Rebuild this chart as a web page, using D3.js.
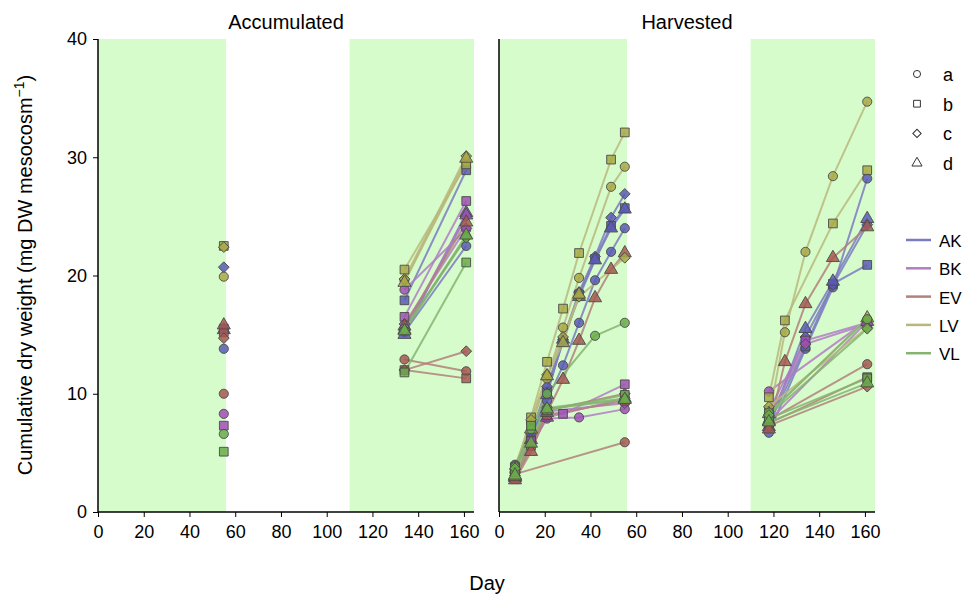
<!DOCTYPE html>
<html>
<head>
<meta charset="utf-8">
<script src="https://cdn.jsdelivr.net/npm/d3@7"></script>
<style>
  body { margin: 0; background: #fff; }
  svg { font-family: "Liberation Sans", Arial, sans-serif; }
</style>
</head>
<body>
<svg id="chart" width="968" height="597"></svg>
<script>
var groups = ["AK", "BK", "EV", "LV", "VL"];
var reps = ["a", "b", "c", "d"];
var lineColors = ["#7b7bc0", "#b07cc4", "#b3807a", "#b8b87c", "#84b470"];
var pointColors = ["#5a5ab4", "#a050b4", "#a4584f", "#a8a846", "#6aac4a"];
var xTicks = [0, 20, 40, 60, 80, 100, 120, 140, 160];
var yTicks = [0, 10, 20, 30, 40];
var shaded = [[0, 56], [110, 164.4]];

// accumulated: one value per replicate a..d at these days
var accDays = [55, 134, 161];
var accAK = [[13.8, 15.2, 22.5], [15.5, 17.9, 28.9], [20.7, 15.3, 25.0], [15.4, 15.0, 25.3]];
var accBK = [[8.3, 18.8, 23.9], [7.3, 16.5, 26.3], [null, 15.9, 24.0], [null, 15.4, 25.1]];
var accEV = [[10.0, 12.9, 11.9], [15.2, 12.0, 11.3], [14.7, 12.0, 13.6], [15.8, 15.7, 24.5]];
var accLV = [[19.9, 19.6, 29.6], [22.5, 20.5, 29.4], [22.4, 19.7, 30.1], [null, 19.4, 29.9]];
var accVL = [[6.6, 15.5, 23.3], [5.1, 11.8, 21.1], [null, 15.4, 23.2], [null, 15.3, 23.4]];

// harvested
var harvDays = [7, 14, 21, 28, 35, 42, 49, 55, 118, 125, 134, 146, 161];
var harvAK = [
  [4.0, 6.3, 9.4, 12.4, 16.0, 19.6, 22.0, 24.0, 6.7, null, 13.8, 19.0, 28.2],
  [3.6, 6.0, 10.2, 14.4, 18.4, 21.4, 24.2, 25.7, 7.4, null, 14.0, 19.3, 20.9],
  [3.4, 6.6, 10.6, 14.6, 18.6, 21.6, 24.9, 26.9, 7.6, null, 14.8, 19.2, 24.3],
  [3.0, 6.1, 9.9, 14.6, 18.2, 21.3, 24.0, 25.6, 7.2, null, 15.5, 19.5, 24.8]];
var harvBK = [
  [3.5, null, 7.9, null, 8.0, null, null, 8.7, 10.2, null, null, null, 16.2],
  [3.8, 6.0, 8.3, 8.3, null, null, null, 10.8, 8.6, null, 14.5, null, 16.0],
  [3.3, null, 8.5, null, null, null, null, 9.2, 8.0, null, 14.2, null, 15.9],
  [2.9, null, 8.0, null, null, null, null, 9.6, 7.7, null, null, null, 16.1]];
var harvEV = [
  [3.2, null, null, null, null, null, null, 5.9, 7.8, null, null, null, 12.5],
  [2.8, 5.6, 8.2, null, null, null, null, 9.4, 7.5, null, null, null, 11.4],
  [3.1, null, 8.6, null, null, null, null, 10.0, 7.3, null, null, null, 10.6],
  [2.7, 5.1, 8.4, 11.2, 14.5, 18.1, 20.5, 21.9, 7.0, 12.7, 17.6, 21.5, 24.1]];
var harvLV = [
  [3.9, 7.5, 11.3, 15.6, 19.8, null, 27.5, 29.2, 8.0, 15.2, 22.0, 28.4, 34.7],
  [3.5, 8.0, 12.7, 17.2, 21.9, null, 29.8, 32.1, 9.7, 16.2, null, 24.4, 28.9],
  [3.6, 7.8, 11.6, 14.8, 18.2, null, null, 21.5, 8.9, null, null, null, 15.6],
  [3.0, 7.0, 11.5, 14.3, 18.4, null, null, null, 8.3, null, null, null, 16.4]];
var harvVL = [
  [3.8, 7.0, 10.0, null, null, 14.9, null, 16.0, 8.4, null, null, null, 16.3],
  [3.4, 7.3, 8.6, null, null, null, null, 9.9, 7.9, null, null, null, 11.3],
  [3.7, null, 8.8, null, null, null, null, 9.6, 8.2, null, null, null, 15.5],
  [3.1, 5.8, 8.7, null, null, null, null, 9.5, 7.6, null, null, null, 10.9]];

var svg = d3.select("#chart");
var font = "Liberation Sans, Arial, sans-serif";
var y = d3.scaleLinear().domain([0, 40]).range([512, 39]);

var shapes = [d3.symbolCircle, d3.symbolSquare, d3.symbolSquare, d3.symbolTriangle];
var sizes = [66, 76, 58, 74];
var rotate = [0, 0, 45, 0];

function toSeries(days, table) {
  var out = [];
  table.forEach(function (rows, g) {
    rows.forEach(function (vals, r) {
      var pts = [];
      vals.forEach(function (v, i) { if (v != null) pts.push({ day: days[i], v: v }); });
      out.push({ g: g, r: r, pts: pts });
    });
  });
  return out;
}

function panel(x0, title, series) {
  var x = d3.scaleLinear().domain([0, 164.4]).range([x0, x0 + 376]);
  var p = svg.append("g");

  p.selectAll("rect.shade").data(shaded).enter().append("rect")
    .attr("x", function (d) { return x(d[0]); })
    .attr("width", function (d) { return x(d[1]) - x(d[0]); })
    .attr("y", y(40)).attr("height", y(0) - y(40))
    .attr("fill", "#d7fccc");

  var line = d3.line().x(function (d) { return x(d.day); }).y(function (d) { return y(d.v); });
  series.forEach(function (s) {
    [s.pts.filter(function (d) { return d.day <= 60; }), s.pts.filter(function (d) { return d.day > 60; })]
      .forEach(function (seg) {
        if (seg.length < 2) return;
        p.append("path").datum(seg).attr("d", line)
          .attr("fill", "none").attr("stroke", lineColors[s.g])
          .attr("stroke-width", 2).attr("stroke-opacity", 0.85);
      });
  });
  series.forEach(function (s) {
    p.selectAll(null).data(s.pts).enter().append("path")
      .attr("d", d3.symbol().type(shapes[s.r]).size(sizes[s.r]))
      .attr("transform", function (d) { return "translate(" + x(d.day) + "," + y(d.v) + ") rotate(" + rotate[s.r] + ")"; })
      .attr("fill", pointColors[s.g]).attr("fill-opacity", 0.85)
      .attr("stroke", "#4a4a4a").attr("stroke-width", 0.9);
  });

  var ax = p.append("g").attr("transform", "translate(0,512)")
    .call(d3.axisBottom(x).tickValues(xTicks).tickSize(5).tickPadding(8));
  ax.select(".domain").attr("d", "M" + x0 + ",0H" + (x0 + 376)).attr("stroke-width", 1.5);
  ax.selectAll("text").attr("font-size", 18).attr("fill", "#000").attr("font-family", font);
  p.append("line").attr("x1", x0).attr("x2", x0).attr("y1", y(40)).attr("y2", 512)
    .attr("stroke", "#000").attr("stroke-width", 1.5);

  p.append("text").attr("x", x0 + 188).attr("y", 29).attr("text-anchor", "middle")
    .attr("font-size", 20).text(title);
  return x;
}

panel(98, "Accumulated", toSeries(accDays, [accAK, accBK, accEV, accLV, accVL]));
panel(499, "Harvested", toSeries(harvDays, [harvAK, harvBK, harvEV, harvLV, harvVL]));

var ay = svg.append("g").attr("transform", "translate(98,0)")
  .call(d3.axisLeft(y).tickValues(yTicks).tickSize(5).tickPadding(6));
ay.select(".domain").remove();
ay.selectAll("text").attr("font-size", 18).attr("fill", "#000").attr("font-family", font);

var yl = svg.append("text").attr("transform", "translate(32,275) rotate(-90)")
  .attr("text-anchor", "middle").attr("font-size", 20);
yl.append("tspan").text("Cumulative dry weight (mg DW mesocosm");
yl.append("tspan").attr("font-size", 14).attr("dy", -8).text("\u22121");
yl.append("tspan").attr("dy", 8).text(")");

svg.append("text").attr("x", 487).attr("y", 590).attr("text-anchor", "middle")
  .attr("font-size", 20).text("Day");

// legends
var lg = svg.append("g");
reps.forEach(function (r, i) {
  var cy = 74 + i * 29.7;
  lg.append("path").attr("d", d3.symbol().type(shapes[i]).size(sizes[i] * 0.6))
    .attr("transform", "translate(917," + cy + ") rotate(" + rotate[i] + ")")
    .attr("fill", "none").attr("stroke", "#333").attr("stroke-width", 1);
  lg.append("text").attr("x", 943).attr("y", cy + 7).attr("font-size", 18).text(r);
});
groups.forEach(function (g, i) {
  var cy = 240 + i * 28.3;
  lg.append("line").attr("x1", 906).attr("x2", 931).attr("y1", cy).attr("y2", cy)
    .attr("stroke", lineColors[i]).attr("stroke-width", 2.5);
  lg.append("text").attr("x", 939).attr("y", cy + 7).attr("font-size", 17).text(g);
});
</script>
</body>
</html>
